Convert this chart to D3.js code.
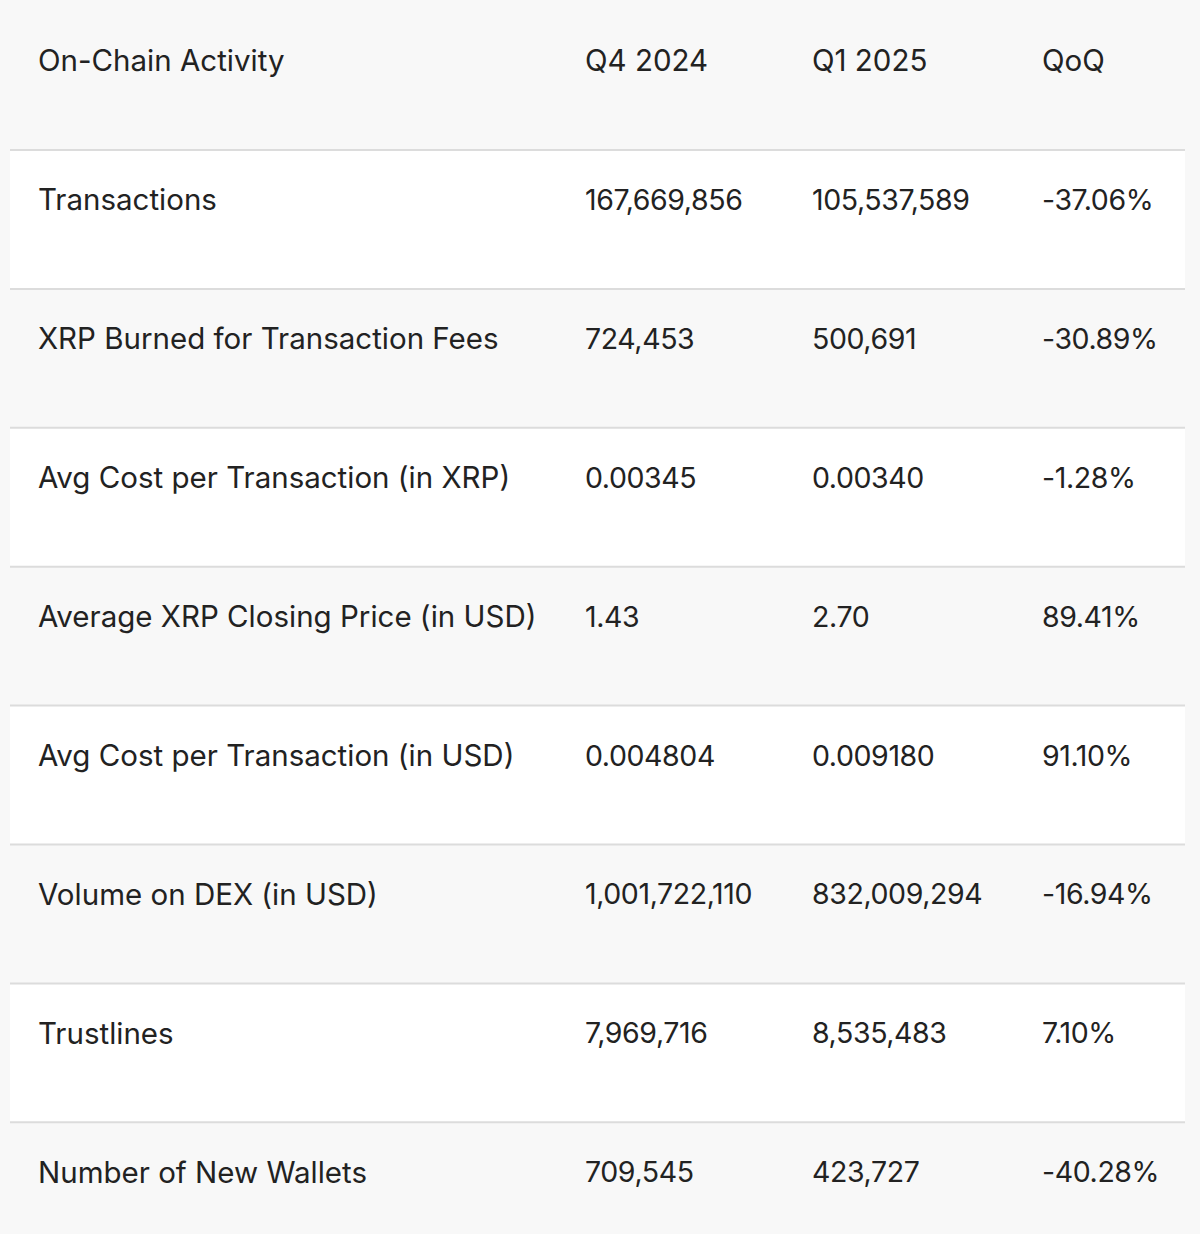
<!DOCTYPE html>
<html><head><meta charset="utf-8">
<script src="https://cdn.jsdelivr.net/npm/d3@7"></script>
<style>body{margin:0;background:#f8f8f8;}</style>
</head><body>
<script>
var headers = ["On-Chain Activity", "Q4 2024", "Q1 2025", "QoQ"];
var metrics = ["Transactions", "XRP Burned for Transaction Fees", "Avg Cost per Transaction (in XRP)",
  "Average XRP Closing Price (in USD)", "Avg Cost per Transaction (in USD)", "Volume on DEX (in USD)",
  "Trustlines", "Number of New Wallets"];
var q4 = ["167,669,856", "724,453", "0.00345", "1.43", "0.004804", "1,001,722,110", "7,969,716", "709,545"];
var q1 = ["105,537,589", "500,691", "0.00340", "2.70", "0.009180", "832,009,294", "8,535,483", "423,727"];
var qoq = ["-37.06%", "-30.89%", "-1.28%", "89.41%", "91.10%", "-16.94%", "7.10%", "-40.28%"];

var width = 1200, height = 1234;
var svg = d3.select("body").append("svg").attr("width", width).attr("height", height);
svg.append("rect").attr("width", width).attr("height", height).attr("fill", "#f8f8f8");

var colX = [38, 585, 812, 1042];
var headerH = 150, rowH = 138.9;
var y = d3.scaleLinear().domain([0, 1]).range([headerH, headerH + rowH]);

var font = "Inter, 'Noto Sans', sans-serif";
svg.selectAll("text.head").data(headers).enter().append("text")
  .attr("x", function(d, i) { return colX[i]; })
  .attr("y", 61).attr("dy", "0.35em")
  .style("font-family", font).style("font-size", "29.5px").attr("fill", "#222")
  .text(function(d) { return d; });

var rows = svg.selectAll("g.row").data(metrics).enter().append("g")
  .attr("transform", function(d, i) { return "translate(0," + y(i) + ")"; });

rows.append("rect").attr("x", 10).attr("width", 1175)
  .attr("height", function(d, i) { return i == metrics.length - 1 ? height - y(i) - 2 : rowH; })
  .attr("fill", function(d, i) { return i % 2 == 0 ? "#ffffff" : "#f8f8f8"; });
rows.append("line").attr("x1", 10).attr("x2", 1185).attr("y1", 0).attr("y2", 0)
  .attr("stroke", "#dcdcdc").attr("stroke-width", 2);

rows.each(function(d, i) {
  var vals = [d, q4[i], q1[i], qoq[i]];
  d3.select(this).selectAll("text").data(vals).enter().append("text")
    .attr("x", function(v, j) { return colX[j]; })
    .attr("y", 50).attr("dy", "0.35em")
    .style("font-family", font).style("font-size", function(v, j) { return j == 0 ? "29.5px" : "28.5px"; })
    .style("letter-spacing", function(v, j) { return j == 0 ? "0px" : "-0.4px"; })
    .attr("fill", "#222")
    .text(function(v) { return v; });
});
</script>
</body></html>
